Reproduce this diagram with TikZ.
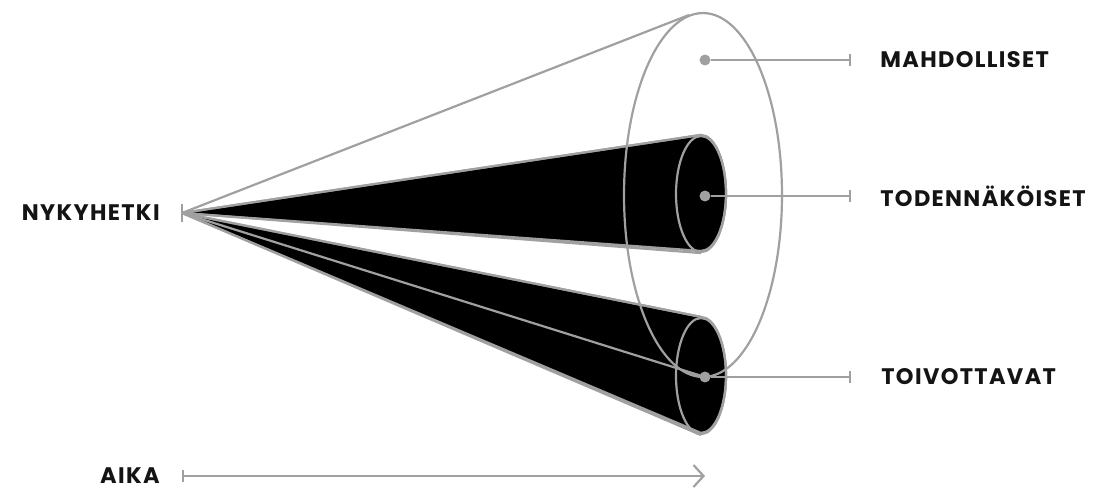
\documentclass[tikz,border=0pt]{standalone}
\usepackage{fontspec}
\setmainfont{Poppins}[LetterSpace=6]
\usepackage{tikz}
\usetikzlibrary{positioning,arrows.meta,shapes.geometric}
\definecolor{linegray}{RGB}{160,160,160}
\definecolor{textblack}{RGB}{20,20,20}

\begin{document}
\begin{tikzpicture}[
    x=0.02cm, y=0.02cm,
    font=\bfseries\fontsize{12.8}{15}\selectfont,
    gline/.style={draw=linegray, line width=1.25pt, line join=round},
    cone/.style={fill=black, draw=linegray, line width=1.25pt, line join=round},
    mouth/.style={ellipse, draw=linegray, line width=1.25pt, inner sep=0pt},
    dot/.style={circle, fill=linegray, inner sep=0pt, minimum size=0.22cm},
    tick/.style={gline, -{Bar[width=0.24cm]}},
    lbl/.style={inner sep=0pt, text=textblack}
  ]
    \useasboundingbox (0,0) rectangle (1100,491);
    \coordinate (now) at (182,278);
    \coordinate (rim) at (689,476);
    % cone mouths
    \node[mouth, minimum width=1.0cm, minimum height=2.32cm] (E1) at (701,297) {};
    \node[mouth, minimum width=1.0cm, minimum height=2.32cm] (E2) at (701,115) {};
    \fill[cone] (now) -- (E2.north) arc[start angle=90, end angle=-90,
        x radius=25, y radius=58] -- cycle;
    \fill[cone] (now) -- (E1.north) arc[start angle=90, end angle=-90,
        x radius=25, y radius=58] -- cycle;
    \draw[gline] (now) -- (E2.north);
    \draw[gline] (now) -- (E2.south);
    \draw[gline] (now) -- (E1.north);
    \draw[gline] (now) -- (E1.south);
    \node[mouth, minimum width=1.0cm, minimum height=2.32cm] at (E1) {};
    \node[mouth, minimum width=1.0cm, minimum height=2.32cm] at (E2) {};
    % big cone
    \node[mouth, minimum width=3.16cm, minimum height=7.28cm] (E0) at (703,296) {};
    \node[dot] (dM) at (705,431) {};
    \node[dot] (dT) at (705,295) {};
    \node[dot] (dW) at (705,114) {};
    \draw[gline] (now) -- (rim);
    \draw[gline] (now) -- (dW.center);
    % labels
    \coordinate (tM) at (851,431);
    \coordinate (tT) at (851,295);
    \coordinate (tW) at (851,114);
    \draw[tick] (dM) -- (tM);
    \draw[tick] (dT) -- (tT);
    \draw[tick] (dW) -- (tW);
    \node[lbl, anchor=west, right=0.58cm of tM] {MAHDOLLISET};
    \node[lbl, anchor=west, right=0.58cm of tT] {TODENNÄKÖISET};
    \node[lbl, anchor=west, right=0.6cm of tW] {TOIVOTTAVAT};
    \draw[gline] (now) ++(0,9) -- ++(0,-18);
    \node[lbl, left=0.44cm of now] (nowL) {NYKYHETKI};
    % time axis
    \coordinate (t0) at (182,15);
    \coordinate (t1) at (705,15);
    \draw[gline, {Bar[width=0.24cm]}-{Straight Barb[length=0.2cm, width=0.44cm]}] (t0) -- (t1);
    \node[lbl, left=0.44cm of t0] {AIKA};
\end{tikzpicture}
\end{document}
